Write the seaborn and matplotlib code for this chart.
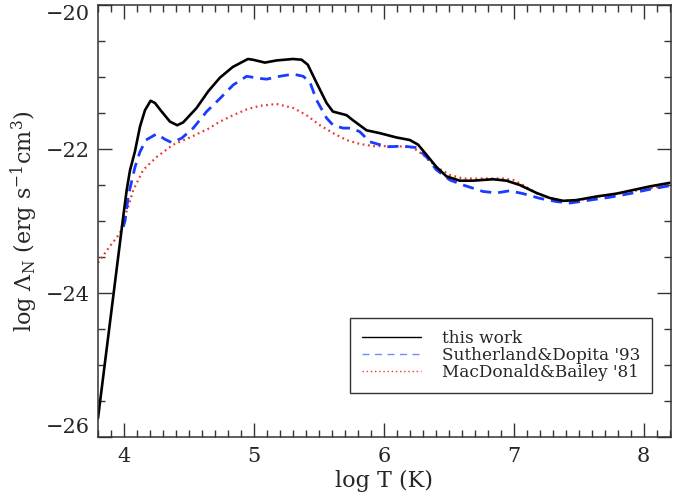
import matplotlib
matplotlib.use("Agg")
import matplotlib.pyplot as plt
import pandas as pd
import seaborn as sns
from matplotlib.lines import Line2D
from matplotlib.ticker import MultipleLocator

# this work (black solid)
thisLogT = [3.80, 3.995, 4.021, 4.046, 4.085, 4.123, 4.162, 4.205, 4.238,
            4.29, 4.354, 4.41, 4.456, 4.559, 4.648, 4.738, 4.838, 4.954, 4.992,
            5.085, 5.175, 5.30, 5.367, 5.415, 5.482, 5.559, 5.608, 5.713, 5.762,
            5.867, 5.969, 6.098, 6.200, 6.264, 6.328, 6.405, 6.482, 6.585, 6.687,
            6.841, 6.944, 7.046, 7.175, 7.277, 7.379, 7.482, 7.636, 7.79, 7.944,
            8.046, 8.20]
thisLambda = [-25.74, -22.93, -22.57, -22.30, -22.03, -21.69, -21.46, -21.33, -21.36,
              -21.48, -21.62, -21.67, -21.63, -21.43, -21.20, -21.01, -20.86, -20.75, -20.76,
              -20.80, -20.77, -20.75, -20.76, -20.83, -21.08, -21.36, -21.48, -21.53, -21.60,
              -21.74, -21.78, -21.84, -21.875, -21.94, -22.08, -22.25, -22.38, -22.44, -22.44,
              -22.42, -22.44, -22.50, -22.61, -22.68, -22.72, -22.71, -22.66, -22.62, -22.56,
              -22.52, -22.47]

# Sutherland & Dopita '93 (blue dashed)
sdLogT = [3.995, 4.008, 4.033, 4.046, 4.085, 4.123, 4.169, 4.252, 4.315, 4.367, 4.444,
          4.533, 4.636, 4.738, 4.841, 4.944, 5.046, 5.098, 5.20, 5.302, 5.379,
          5.431, 5.482, 5.559, 5.61, 5.687, 5.752, 5.815, 5.892, 5.969, 6.021,
          6.148, 6.252, 6.328, 6.405, 6.508, 6.61, 6.764, 6.867, 6.969, 7.072,
          7.20, 7.328, 7.431, 7.585, 7.738, 7.892, 8.046, 8.20]
sdLambda = [-23.08, -23.00, -22.66, -22.55, -22.25, -22.04, -21.875, -21.79, -21.865, -21.91, -21.85,
            -21.71, -21.48, -21.30, -21.11, -20.99, -21.02, -21.03, -20.99, -20.96, -20.99,
            -21.07, -21.32, -21.57, -21.67, -21.71, -21.71, -21.76, -21.90, -21.94, -21.97,
            -21.96, -21.98, -22.11, -22.29, -22.43, -22.50, -22.59, -22.61, -22.58, -22.62,
            -22.685, -22.73, -22.75, -22.71, -22.67, -22.62, -22.56, -22.51]

# MacDonald & Bailey '81 (red dotted)
mbLogT = [3.80, 3.892, 3.969, 4.008, 4.033, 4.072, 4.148, 4.252, 4.379, 4.508, 4.648,
          4.738, 4.841, 4.944, 5.046, 5.175, 5.302, 5.405, 5.508, 5.61, 5.713,
          5.815, 5.918, 6.098, 6.225, 6.302, 6.405, 6.508, 6.61, 6.764, 6.918,
          6.995, 7.072, 7.175, 7.277, 7.379, 7.533, 7.687, 7.841, 7.995, 8.20]
mbLambda = [-23.58, -23.35, -23.17, -22.93, -22.80, -22.57, -22.29, -22.11, -21.94, -21.84, -21.72,
            -21.62, -21.53, -21.45, -21.40, -21.375, -21.43, -21.53, -21.67, -21.78, -21.875,
            -21.93, -21.96, -21.96, -21.98, -22.08, -22.25, -22.36, -22.41, -22.41, -22.41,
            -22.43, -22.50, -22.615, -22.685, -22.72, -22.70, -22.65, -22.61, -22.56, -22.50]

labels = ["this work", "Sutherland&Dopita '93", "MacDonald&Bailey '81"]
yTicks = [-26, -24, -22, -20]
yTickLabels = ["\u221226", "\u221224", "\u221222", "\u221220"]


def makeFrame(x: list, y: list, name: str) -> pd.DataFrame:
    return pd.DataFrame({"logT": x, "logL": y, "source": name})


sns.set_style("ticks")
plt.rcParams["font.family"] = ["DejaVu Serif"]
plt.rcParams["mathtext.fontset"] = "dejavuserif"

fig = plt.figure(figsize=(6.91, 4.99), dpi=100)
ax = fig.add_axes([0.1418, 0.1242, 0.8292, 0.8658])

sns.lineplot(data=makeFrame(mbLogT, mbLambda, labels[2]), x="logT", y="logL",
             color="#e8392c", linewidth=1.6, linestyle=(0, (0.8, 1.6)), ax=ax,
             estimator=None, sort=False)
sns.lineplot(data=makeFrame(sdLogT, sdLambda, labels[1]), x="logT", y="logL",
             color="#1a3cff", linewidth=2.0, linestyle=(0, (4, 2.5)), ax=ax,
             estimator=None, sort=False)
sns.lineplot(data=makeFrame(thisLogT, thisLambda, labels[0]), x="logT", y="logL",
             color="black", linewidth=1.9, ax=ax, estimator=None, sort=False)

ax.set_xlim(3.8, 8.21)
ax.set_ylim(-26, -20)
ax.xaxis.set_major_locator(MultipleLocator(1))
ax.xaxis.set_minor_locator(MultipleLocator(0.1))
ax.set_yticks(yTicks, yTickLabels)
ax.yaxis.set_minor_locator(MultipleLocator(0.5))
ax.tick_params(which="both", direction="in", top=True, right=True, labelsize=15,
               color="#333333")
ax.tick_params(which="major", length=10, width=1)
ax.tick_params(which="minor", length=5, width=1)
ax.tick_params(axis="x", pad=7)
ax.tick_params(axis="y", pad=6)
yLabs = ax.get_yticklabels()
yLabs[0].set_verticalalignment("bottom")
yLabs[-1].set_verticalalignment("top")
for s in ax.spines.values():
    s.set_linewidth(1.1)
    s.set_color("#333333")

ax.set_xlabel("log T (K)", fontsize=16, labelpad=3)
ax.set_ylabel(r"log $\Lambda_{\rm N}$ (erg s$^{-1}$cm$^{3}$)", fontsize=16, labelpad=4)

handles = [
    Line2D([], [], color="black", linewidth=1.0),
    Line2D([], [], color="#6f8cff", linewidth=1.0, linestyle=(0, (5, 4))),
    Line2D([], [], color="#e8392c", linewidth=1.0, linestyle=(0, (1, 2))),
]
leg = ax.legend(handles, labels, loc="lower right", bbox_to_anchor=(0.967, 0.102),
                fontsize=12.2, frameon=True, fancybox=False, handlelength=3.5,
                handletextpad=1.2, borderpad=0.7, labelspacing=0.0,
                borderaxespad=0)
leg.get_frame().set_edgecolor("black")
leg.get_frame().set_linewidth(1.0)

fig.savefig("out.png", dpi=100)
